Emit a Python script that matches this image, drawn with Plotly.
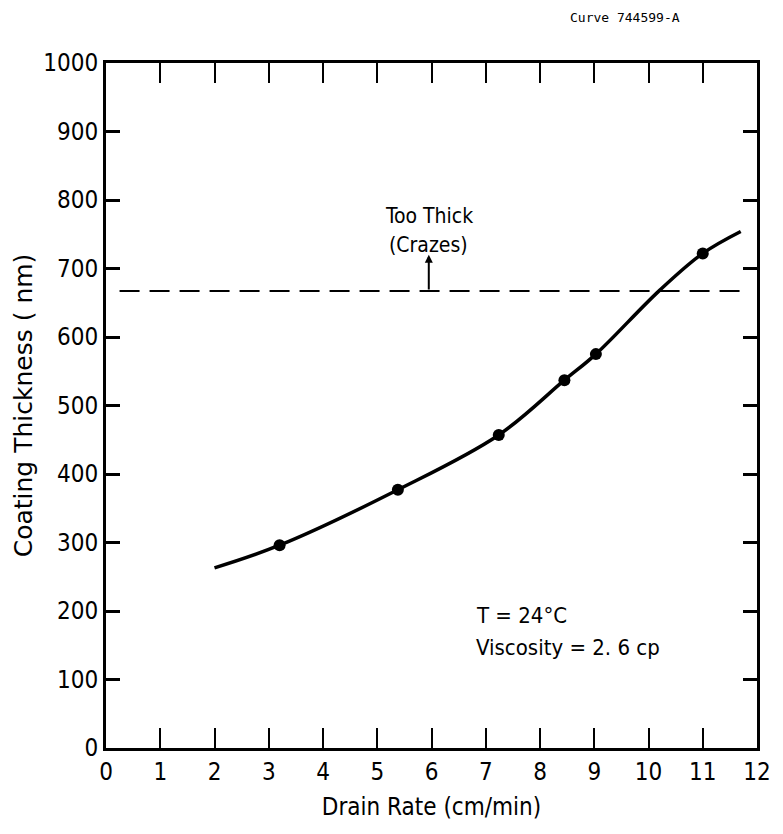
import plotly.graph_objects as go

# Measured data points
pts_x = [3.2, 5.38, 7.24, 8.45, 9.03, 11.0]
pts_y = [296, 377, 457, 537, 575, 722]

# Smooth fitted curve
curve_x = [2.0, 3.2, 5.38, 7.24, 8.45, 9.03, 10.19, 11.0, 11.7]
curve_y = [263, 296, 377, 457, 537, 575, 667, 722, 754]

limit_y = 667
limit_x = [0.25, 11.75]

x_ticks = list(range(0, 13))
y_ticks = list(range(0, 1001, 100))

NARROW = "Liberation Sans Narrow, DejaVu Sans Condensed, Arial Narrow, sans-serif"

fig = go.Figure()
fig.add_trace(go.Scatter(x=limit_x, y=[limit_y, limit_y], mode="lines",
                         line=dict(color="black", width=2, dash="20px,10px"),
                         showlegend=False, hoverinfo="skip"))
fig.add_trace(go.Scatter(x=curve_x, y=curve_y, mode="lines",
                         line=dict(color="black", width=3.5, shape="spline", smoothing=1.0),
                         showlegend=False))
fig.add_trace(go.Scatter(x=pts_x, y=pts_y, mode="markers",
                         marker=dict(color="black", size=12),
                         showlegend=False))

# arrow
fig.add_annotation(x=5.95, y=720, ax=5.95, ay=limit_y, xref="x", yref="y",
                   axref="x", ayref="y", text="", showarrow=True,
                   arrowhead=2, arrowsize=0.8, arrowwidth=2, arrowcolor="black")
fig.add_annotation(x=5.95, y=777, xref="x", yref="y", text="Too Thick",
                   showarrow=False, font=dict(family=NARROW, size=21, color="black"))
fig.add_annotation(x=5.95, y=735, xref="x", yref="y", text="(Crazes)",
                   showarrow=False, font=dict(family=NARROW, size=21, color="black"))
fig.add_annotation(x=6.78, y=194, xref="x", yref="y", text="T = 24°C",
                   xanchor="left", showarrow=False,
                   font=dict(family=NARROW, size=22, color="black"))
fig.add_annotation(x=6.78, y=146, xref="x", yref="y", text="Viscosity = 2. 6 cp",
                   xanchor="left", showarrow=False,
                   font=dict(family=NARROW, size=22, color="black"))
fig.add_annotation(text="Curve 744599-A", xref="paper", yref="paper",
                   x=(632 - 106) / 660, y=(834 - 17 - 86) / 685,
                   xanchor="center", yanchor="middle", showarrow=False,
                   font=dict(family="DejaVu Sans Mono, Liberation Mono, monospace", size=13, color="black"))

fig.update_layout(
    width=783, height=834,
    margin=dict(l=106, r=17, t=63, b=86),
    paper_bgcolor="white", plot_bgcolor="white",
    font=dict(family=NARROW, color="black"),
)

fig.update_xaxes(range=[0, 12], tickvals=x_ticks, ticks="inside", ticklen=20, tickwidth=2,
                 tickcolor="black", showline=True, linecolor="black", linewidth=3, mirror="ticks",
                 showgrid=False, zeroline=False,
                 tickfont=dict(family=NARROW, size=24, color="black"),
                 title=dict(text="Drain Rate (cm/min)", standoff=14,
                            font=dict(family=NARROW, size=24, color="black")))
fig.update_yaxes(range=[0, 1000], tickvals=y_ticks, ticks="inside", ticklen=14, tickwidth=3,
                 tickcolor="black", showline=True, linecolor="black", linewidth=3, mirror="ticks",
                 showgrid=False, zeroline=False,
                 tickfont=dict(family=NARROW, size=24, color="black"),
                 title=dict(text="Coating Thickness ( nm)", standoff=4,
                            font=dict(family="DejaVu Sans, sans-serif", size=25, color="black")))

fig.write_html("out.html")
